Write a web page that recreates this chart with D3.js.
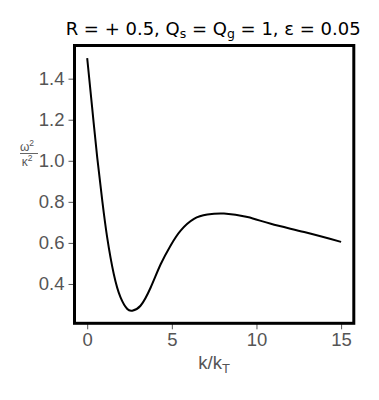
<!DOCTYPE html>
<html>
<head>
<meta charset="utf-8">
<script src="https://cdn.jsdelivr.net/npm/d3@7"></script>
<style>
  html, body { margin: 0; padding: 0; background: #fff; }
  svg { display: block; }
</style>
</head>
<body>
<div id="chart"></div>
<script>
const kValues = [0, 0.29, 0.59, 0.89, 1.18, 1.57, 1.97, 2.37, 2.66, 3.15, 3.75, 4.34, 4.93, 5.52, 6.31, 7.1, 8.08, 9.47, 10.85, 12.82, 15];
const ratioValues = [1.5, 1.261, 1.018, 0.806, 0.627, 0.449, 0.335, 0.278, 0.27, 0.294, 0.383, 0.496, 0.588, 0.66, 0.717, 0.738, 0.743, 0.726, 0.693, 0.653, 0.605];
const xTicks = [0, 5, 10, 15];
const yTicks = [0.4, 0.6, 0.8, 1.0, 1.2, 1.4];

const W = 379, H = 400;
const pLeft = 74.5, pRight = 353.8, pTop = 45.5, pBottom = 323.3;

const svg = d3.select("#chart").append("svg").attr("width", W).attr("height", H);

const x = d3.scaleLinear().domain([-0.75, 15.75]).range([pLeft, pRight]);
const y = d3.scaleLinear().domain([0.2085, 1.5615]).range([pBottom, pTop]);

const data = kValues.map((k, i) => ({k, v: ratioValues[i]}));

const gray = "#555";
const tickFont = "'Liberation Sans', Arial, sans-serif";

// axes
const xAxis = svg.append("g").attr("transform", `translate(0,${pBottom})`)
  .call(d3.axisBottom(x).tickValues(xTicks).tickFormat(d3.format("d")).tickSize(6).tickPadding(4));
const yAxis = svg.append("g").attr("transform", `translate(${pLeft},0)`)
  .call(d3.axisLeft(y).tickValues(yTicks).tickFormat(d3.format(".1f")).tickSize(6).tickPadding(4));
[xAxis, yAxis].forEach(g => {
  g.select(".domain").remove();
  g.selectAll(".tick line").attr("stroke", gray).attr("stroke-width", 1);
  g.selectAll(".tick text").attr("fill", gray).style("font-family", tickFont).style("font-size", "18.5px");
});

// curve
svg.append("path").datum(data)
  .attr("fill", "none").attr("stroke", "#000").attr("stroke-width", 2)
  .attr("d", d3.line().x(d => x(d.k)).y(d => y(d.v)).curve(d3.curveNatural));

// frame
svg.append("rect").attr("x", pLeft).attr("y", pTop)
  .attr("width", pRight - pLeft).attr("height", pBottom - pTop)
  .attr("fill", "none").attr("stroke", "#000").attr("stroke-width", 3);

// title
const title = svg.append("text").attr("x", (pLeft + pRight) / 2 - 1).attr("y", 35)
  .attr("text-anchor", "middle").style("font-family", "'DejaVu Sans', sans-serif")
  .style("font-size", "18px").attr("fill", "#000");
title.append("tspan").text("R = + 0.5, Q");
title.append("tspan").attr("dy", 3).style("font-size", "12.5px").text("s");
title.append("tspan").attr("dy", -3).text(" = Q");
title.append("tspan").attr("dy", 3).style("font-size", "12.5px").text("g");
title.append("tspan").attr("dy", -3).text(" = 1, ε = 0.05");

// x label
const xl = svg.append("text").attr("x", (pLeft + pRight) / 2).attr("y", 369)
  .attr("text-anchor", "middle").style("font-family", tickFont)
  .style("font-size", "18.5px").attr("fill", gray);
xl.append("tspan").text("k/k");
xl.append("tspan").attr("dy", 4).style("font-size", "13px").text("T");

// y label fraction
const fx = 27, fy = 153.5;
const yl = svg.append("g").attr("fill", gray).style("font-family", tickFont);
yl.append("text").attr("x", fx).attr("y", fy - 3).attr("text-anchor", "middle")
  .style("font-size", "12px").html('ω<tspan dy="-5" font-size="8.5px">2</tspan>');
yl.append("line").attr("x1", fx - 7).attr("x2", fx + 11).attr("y1", fy).attr("y2", fy)
  .attr("stroke", gray).attr("stroke-width", 0.9);
yl.append("text").attr("x", fx).attr("y", fy + 12).attr("text-anchor", "middle")
  .style("font-size", "12px").html('κ<tspan dy="-5" font-size="8.5px">2</tspan>');
</script>
</body>
</html>
